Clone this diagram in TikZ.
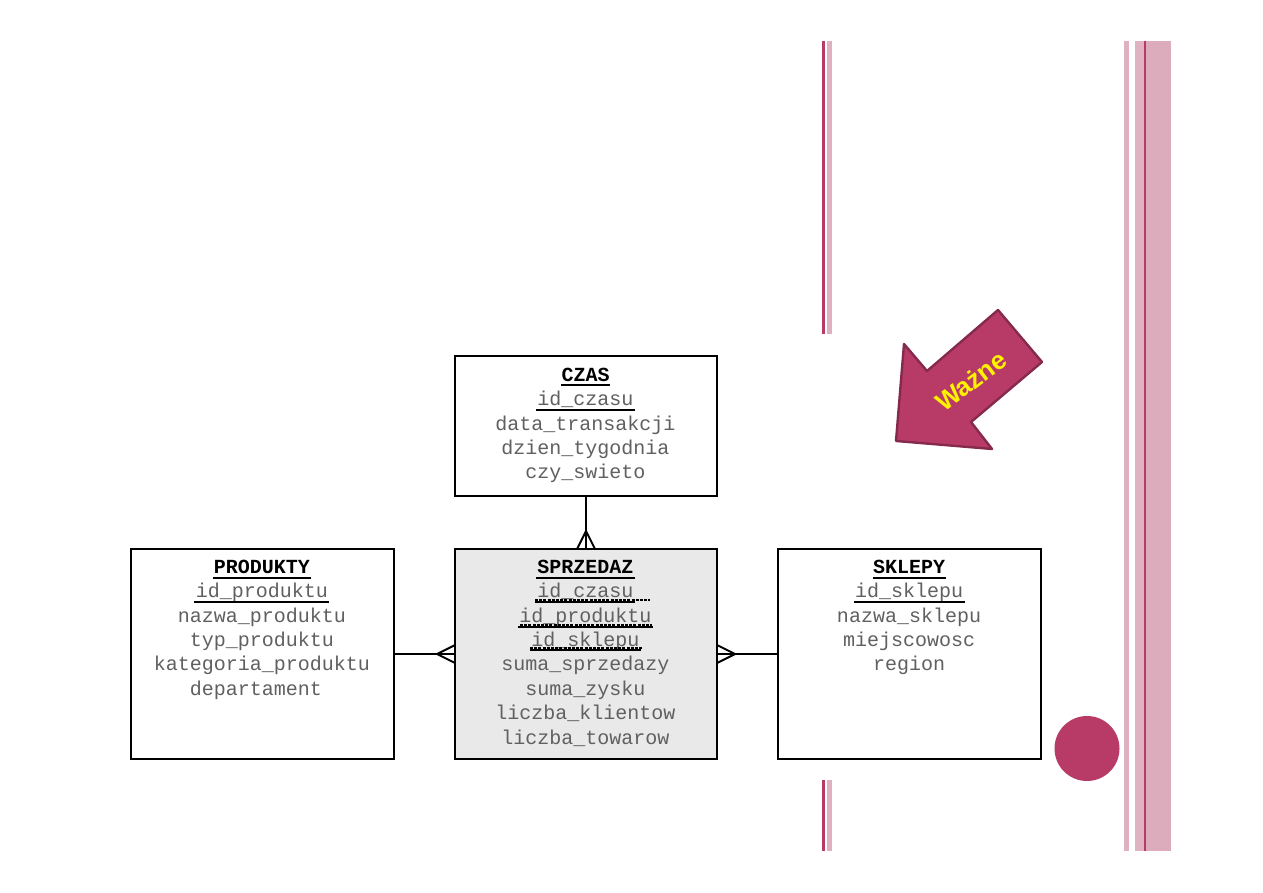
\documentclass[tikz,border=0pt]{standalone}
\usepackage{fontspec}
\setmainfont{Liberation Sans}
\newfontfamily\monofam{Liberation Mono}
\definecolor{rosedark}{HTML}{B83B67}
\definecolor{roselight}{HTML}{DFB1C0}
\definecolor{rosegrain}{HTML}{E0B3C2}
\definecolor{rosestreak}{HTML}{DDACBC}
\definecolor{arrowedge}{HTML}{852A4C}
\definecolor{tablefill}{HTML}{E9E9E9}
\definecolor{fieldgray}{HTML}{606060}
\tikzset{
  table/.style={draw=black,line width=2pt,fill=white,minimum width=262pt,inner sep=0pt,outer sep=0pt},
  fields/.style={anchor=north,inner sep=0pt,align=center,text=fieldgray,
    font=\monofam\fontsize{20}{24.35}\selectfont},
  link/.style={draw=black,line width=2pt},
  keyline/.style={draw=black,line width=2pt},
  fkline/.style={draw=black,line width=2pt,dash pattern=on 3pt off 1.2pt},
}
\newcommand{\hd}[1]{\textcolor{black}{\bfseries #1}}
\begin{document}
\begin{tikzpicture}[x=1pt,y=-1pt]
\useasboundingbox (0,0) rectangle (1263,893);

% decorative page stripes
\fill[rosedark] (822,41) rectangle (824.5,334);
\fill[roselight] (827,41) rectangle (832,334);
\fill[rosedark] (822,780) rectangle (824.5,851);
\fill[roselight] (827,780) rectangle (832,851);
\fill[roselight] (1124,41) rectangle (1129,851);
\fill[rosegrain] (1135,41) rectangle (1171,851);
\fill[rosestreak] (1146,41) rectangle (1171,851);
\fill[rosedark] (1144,41) rectangle (1145.5,851);

% page bullet
\node[circle,fill=rosedark,minimum size=65pt,inner sep=0pt] (bullet) at (1087,748.5) {};

% highlighted arrow with its label
\draw[fill=rosedark,draw=arrowedge,line width=2.4pt,line join=round]
  (998,310) -- (1042,362) -- (971,422) -- (992,449) -- (896,441) -- (904,344) -- (927,371) -- cycle;
\node[rotate=37,text=yellow,font=\bfseries\fontsize{26}{26}\selectfont,inner sep=0pt] (wazne) at (971,381) {Ważne};

% tables
\node[table,minimum height=140pt,anchor=north west] (czas) at (455,356) {};
\node[table,minimum height=210pt,minimum width=263pt,anchor=north west] (produkty) at (131,549) {};
\node[table,minimum height=210pt,anchor=north west,fill=tablefill] (sprzedaz) at (455,549) {};
\node[table,minimum height=210pt,minimum width=263pt,anchor=north west] (sklepy) at (778,549) {};

% table contents
\node[fields] (czastext) at (585.5,368) {\hd{CZAS}\\id\_czasu\\data\_transakcji\\dzien\_tygodnia\\czy\_swieto};
\node[fields] (produktytext) at (262,560) {\hd{PRODUKTY}\\id\_produktu\\nazwa\_produktu\\typ\_produktu\\kategoria\_produktu\\departament\phantom{x}};
\node[fields] (sprzedaztext) at (585.5,560) {\hd{SPRZEDAZ}\\id\_czasu\\id\_produktu\\id\_sklepu\\suma\_sprzedazy\\suma\_zysku\\liczba\_klientow\\liczba\_towarow};
\node[fields] (sklepytext) at (909,560) {\hd{SKLEPY}\\id\_sklepu\\nazwa\_sklepu\\miejscowosc\\region};

% primary key underlines
\draw[keyline] (561,385) -- (610,385);
\draw[keyline] (536,409.5) -- (635,409.5);
\draw[keyline] (213,578) -- (311,578);
\draw[keyline] (194,602) -- (329,602);
\draw[keyline] (536,578) -- (635,578);
\draw[keyline] (873,578) -- (946,578);
\draw[keyline] (854,602) -- (965,602);

% composite foreign key underlines
\draw[keyline] (535,602) -- (635,602);
\draw[fkline] (535,600) -- (650,600);
\draw[keyline] (518,626.5) -- (653,626.5);
\draw[fkline] (520,624.5) -- (652,624.5);
\draw[keyline] (530,650) -- (641,650);
\draw[fkline] (530,648) -- (643,648);

% one-to-many relationships
\coordinate (topfoot) at ([yshift=18pt]sprzedaz.north);
\coordinate (leftfoot) at ([xshift=-18pt]sprzedaz.west);
\coordinate (rightfoot) at ([xshift=18pt]sprzedaz.east);
\draw[link] (czas.south) -- (sprzedaz.north);
\draw[link] (produkty.east) -- (sprzedaz.west);
\draw[link] (sklepy.west) -- (sprzedaz.east);
\draw[link] ([xshift=-9pt]sprzedaz.north) -- (topfoot) -- ([xshift=9pt]sprzedaz.north);
\draw[link] ([yshift=-9pt]sprzedaz.west) -- (leftfoot) -- ([yshift=9pt]sprzedaz.west);
\draw[link] ([yshift=-9pt]sprzedaz.east) -- (rightfoot) -- ([yshift=9pt]sprzedaz.east);
\end{tikzpicture}
\end{document}
